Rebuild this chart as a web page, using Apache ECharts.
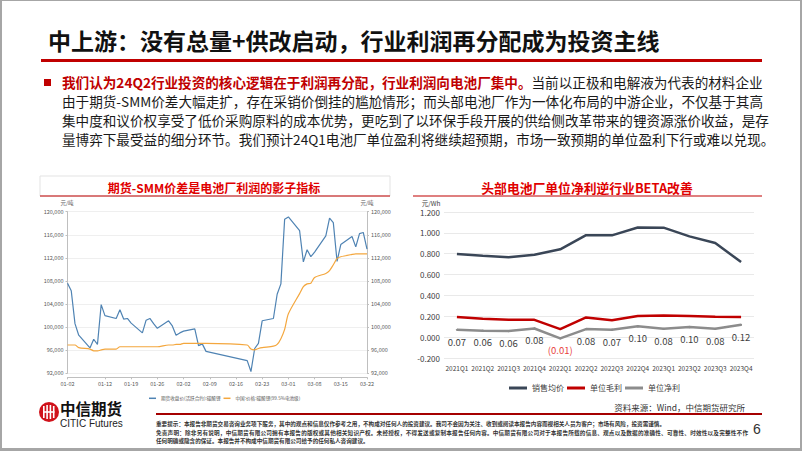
<!DOCTYPE html>
<html><head><meta charset="utf-8">
<script src="https://cdn.jsdelivr.net/npm/echarts/dist/echarts.min.js"></script>
<style>
html,body{margin:0;padding:0;background:#fff;}
#wrap{position:relative;width:802px;height:451px;overflow:hidden;box-sizing:border-box;border:2px solid #a6a6a6;border-bottom-width:3px;border-top-width:1px;font-family:"Noto Sans CJK SC",sans-serif;}
#chart{position:absolute;left:-2px;top:-1px;width:802px;height:451px;}
.t{position:absolute;white-space:nowrap;}
.j{text-align:justify;text-align-last:justify;white-space:nowrap;overflow:visible;}
</style></head>
<body>
<div id="wrap">
  <div id="chart"></div>
  <div class="t" style="left:46px;top:24px;font-size:23px;font-weight:bold;color:#111;line-height:30px;">中上游：没有总量+供改启动，行业利润再分配成为投资主线</div>
  <div class="t" style="left:39px;top:58px;width:721px;height:3px;background:#c00000;"></div>
  <div class="t" style="left:42px;top:78px;width:7px;height:7px;background:#c00000;"></div>
  <div class="t j" style="left:60px;top:72px;width:692px;font-size:13.6px;line-height:19px;color:#1a1a1a;"><span style="color:#c00000;font-weight:bold;">我们认为24Q2行业投资的核心逻辑在于利润再分配，行业利润向电池厂集中。</span>当前以正极和电解液为代表的材料企业</div>
  <div class="t j" style="left:60px;top:91px;width:692px;font-size:13.6px;line-height:19px;color:#1a1a1a;">由于期货-SMM价差大幅走扩，存在采销价倒挂的尴尬情形；而头部电池厂作为一体化布局的中游企业，不仅基于其高</div>
  <div class="t j" style="left:60px;top:110px;width:692px;font-size:13.6px;line-height:19px;color:#1a1a1a;">集中度和议价权享受了低价采购原料的成本优势，更吃到了以环保手段开展的供给侧改革带来的锂资源涨价收益，是存</div>
  <div class="t j" style="left:60px;top:128.5px;width:692px;font-size:13.6px;line-height:19px;color:#1a1a1a;">量博弈下最受益的细分环节。我们预计24Q1电池厂单位盈利将继续超预期，市场一致预期的单位盈利下行或难以兑现。</div>

  <svg class="t" style="left:36px;top:400px;" width="22" height="22" viewBox="0 0 22 22">
    <circle cx="11" cy="11" r="10" fill="#d0121b"/>
    <rect x="5" y="5" width="1.6" height="12" fill="#fff"/>
    <rect x="8.3" y="4" width="1.6" height="14" fill="#fff"/>
    <rect x="11.6" y="4" width="1.6" height="14" fill="#fff"/>
    <rect x="14.9" y="5" width="1.6" height="12" fill="#fff"/>
    <rect x="5" y="10.2" width="11.5" height="1.6" fill="#fff"/>
  </svg>
  <div class="t" style="left:58px;top:399px;font-size:15.5px;font-weight:bold;color:#111;line-height:16px;">中信期货</div>
  <div class="t" style="left:58px;top:418px;font-size:10px;color:#222;line-height:10px;font-family:'Liberation Sans',Arial,sans-serif;">CITIC Futures</div>
  <div class="t" style="right:55px;top:400px;font-size:8.5px;color:#333;line-height:12px;">资料来源：Wind，中信期货研究所</div>
  <div class="t" style="left:154px;top:412px;width:606px;height:2px;background:#a50000;"></div>
  <div class="t" style="left:154px;top:419px;font-size:5.6px;color:#333;line-height:8px;font-weight:bold;">重要提示：本报告非期货交易咨询业务项下服务，其中的观点和信息仅作参考之用，不构成对任何人的投资建议。我司不会因为关注、收到或阅读本报告内容而视相关人员为客户；市场有风险，投资需谨慎。</div>
  <div class="t j" style="left:154px;top:428px;width:592px;font-size:5.6px;color:#333;line-height:8px;font-weight:bold;">免责声明：除非另有说明，中信期货有限公司拥有本报告的版权或其他相关知识产权。未经授权，不得发送或复制本报告任何内容。中信期货有限公司对于本报告所载的信息、观点以及数据的准确性、可靠性、时效性以及完整性不作</div>
  <div class="t" style="left:154px;top:436px;font-size:5.6px;color:#333;line-height:8px;font-weight:bold;">任何明确或隐含的保证。本报告并不构成中信期货有限公司给予的任何私人咨询建议。</div>
  <div class="t" style="left:751px;top:419px;font-size:14px;color:#333;line-height:18px;font-family:'Liberation Sans',Arial,sans-serif;">6</div>
</div>
<script>
// ---- Left chart data (2024, trading days) ----
const tradeDates = ['01-02','01-03','01-04','01-05','01-08','01-09','01-10','01-11','01-12','01-15','01-16','01-17','01-18','01-19','01-22','01-23','01-24','01-25','01-26','01-29','01-30','01-31','02-01','02-02','02-05','02-06','02-07','02-08','02-19','02-20','02-21','02-22','02-23','02-26','02-27','02-28','02-29','03-01','03-04','03-05','03-06','03-07','03-08','03-11','03-12','03-13','03-14','03-15','03-18','03-19','03-20','03-21','03-22'];
const futuresPrice = [107600,106300,100600,98600,96400,97900,97000,103900,102000,101500,103000,101400,101500,100700,99000,101200,101500,100600,99800,101100,100200,98600,99000,99300,99700,96800,97100,95800,94200,92300,96300,97200,101100,101500,105700,107500,118700,119100,116700,111300,113400,112200,113000,115800,118900,118100,111400,114300,115700,113900,116200,116400,113500];
const spotPrice = [96900,96900,96900,96450,96200,95900,95900,96050,96200,96200,96600,96600,96600,96600,96600,96600,96600,96600,96600,96900,96900,97000,97000,97200,97200,97200,97200,97200,96900,96200,96050,96300,96450,96700,97000,98000,99600,102300,105800,107000,107500,107600,108600,109300,109800,110800,111900,112200,112600,112700,112700,112700,112700];
const leftTickLabels = ['01-02','01-12','01-19','01-26','02-02','02-09','02-16','02-23','03-01','03-08','03-15','03-22'];
const leftSeriesNames = ['期货收盘价(活跃合约):碳酸锂','中国:价格:碳酸锂(99.5%电池级)'];

// ---- Right chart data ----
const quarters = ['2021Q1','2021Q2','2021Q3','2021Q4','2022Q1','2022Q2','2022Q3','2022Q4','2023Q1','2023Q2','2023Q3','2023Q4'];
const avgPrice = [0.797,0.781,0.766,0.790,0.842,0.978,0.976,1.052,1.050,0.966,0.903,0.720];
const grossProfit = [0.192,0.176,0.166,0.166,0.077,0.189,0.163,0.202,0.207,0.202,0.195,0.192];
const netProfit = [0.070,0.062,0.058,0.083,-0.012,0.077,0.071,0.104,0.080,0.097,0.080,0.118];
const rightSeriesNames = ['销售均价','单位毛利','单位净利'];

// calendar day categories
const calDays = [];
(function(){
  const d = new Date(Date.UTC(2024,0,2)); const end = Date.UTC(2024,2,22);
  while (d.getTime() <= end) {
    const mm = String(d.getUTCMonth()+1).padStart(2,'0'), dd = String(d.getUTCDate()).padStart(2,'0');
    calDays.push(mm + '-' + dd); d.setUTCDate(d.getUTCDate()+1);
  }
})();
function onCalendar(vals){
  const m = {}; tradeDates.forEach((t,i)=>{ m[t]=vals[i]; });
  return calDays.map(c => (c in m) ? m[c] : null);
}
const showTick = (idx, val) => leftTickLabels.indexOf(val) >= 0;
const thousands = v => v.toLocaleString('en-US');
const font = '"Noto Sans CJK SC", sans-serif';

const chart = echarts.init(document.getElementById('chart'), null, {renderer:'svg', width:802, height:451});
chart.setOption({
  animation:false,
  textStyle:{fontFamily:font},
  grid:[
    {left:67.5, right:435, top:211.7, bottom:77.7},
    {left:444, right:48, top:212, bottom:93}
  ],
  xAxis:[
    {gridIndex:0, type:'category', data:calDays, boundaryGap:false, offset:4,
     axisLine:{lineStyle:{color:'#bfbfbf', width:1}},
     axisTick:{interval:showTick, length:2, lineStyle:{color:'#bfbfbf'}},
     axisLabel:{interval:showTick, fontSize:5.5, color:'#595959', margin:4}},
    {gridIndex:1, type:'category', data:quarters, boundaryGap:true,
     axisLine:{show:false}, axisTick:{show:false},
     axisLabel:{interval:0, fontSize:6.5, color:'#404040', margin:7}}
  ],
  yAxis:[
    {gridIndex:0, type:'value', position:'left', min:92000, max:120000, interval:4000,
     axisLine:{show:true, lineStyle:{color:'#bfbfbf'}}, axisTick:{show:true, length:2, lineStyle:{color:'#bfbfbf'}},
     axisLabel:{fontSize:5.5, color:'#595959', margin:4, formatter:thousands},
     splitLine:{lineStyle:{color:'#efefef'}}},
    {gridIndex:0, type:'value', position:'right', min:92000, max:120000, interval:4000,
     axisLine:{show:true, lineStyle:{color:'#bfbfbf'}}, axisTick:{show:true, length:2, lineStyle:{color:'#bfbfbf'}},
     axisLabel:{fontSize:5.5, color:'#595959', margin:4, formatter:thousands},
     splitLine:{show:false}},
    {gridIndex:1, type:'value', min:-0.2, max:1.2, interval:0.2,
     axisLine:{show:false}, axisTick:{show:false},
     axisLabel:{fontSize:8, color:'#404040', margin:4, formatter:v => (Math.abs(v)<1e-9 ? 0 : v).toFixed(3)},
     splitLine:{lineStyle:{color:'#e9e9e9'}}}
  ],
  legend:[
    {data:leftSeriesNames, left:144, top:391, itemWidth:7, itemHeight:1.5, itemGap:3, icon:'rect',
     textStyle:{fontSize:4.6, color:'#595959'}},
    {data:rightSeriesNames, left:504, top:379, itemWidth:18, itemHeight:3, itemGap:3, icon:'rect',
     textStyle:{fontSize:8, color:'#404040'}}
  ],
  series:[
    {name:leftSeriesNames[0], type:'line', xAxisIndex:0, yAxisIndex:0, data:onCalendar(futuresPrice),
     connectNulls:true, showSymbol:false, lineStyle:{width:1.2, color:'#4f83b3'}, itemStyle:{color:'#4f83b3'}},
    {name:leftSeriesNames[1], type:'line', xAxisIndex:0, yAxisIndex:0, data:onCalendar(spotPrice),
     connectNulls:true, showSymbol:false, smooth:0.25, lineStyle:{width:1.2, color:'#f4a73e'}, itemStyle:{color:'#f4a73e'}},
    {name:rightSeriesNames[0], type:'line', xAxisIndex:1, yAxisIndex:2, data:avgPrice,
     showSymbol:false, lineStyle:{width:2.5, color:'#3a4657'}, itemStyle:{color:'#3a4657'}},
    {name:rightSeriesNames[1], type:'line', xAxisIndex:1, yAxisIndex:2, data:grossProfit,
     showSymbol:false, lineStyle:{width:2.5, color:'#c00000'}, itemStyle:{color:'#c00000'}},
    {name:rightSeriesNames[2], type:'line', xAxisIndex:1, yAxisIndex:2,
     data:netProfit.map(v => v < 0 ? {value:v, label:{color:'#e8403a'}} : v),
     showSymbol:true, symbol:'circle', symbolSize:2, showAllSymbol:true,
     lineStyle:{width:2.5, color:'#8c8c8c'}, itemStyle:{color:'#8c8c8c'},
     label:{show:true, position:'bottom', distance:6, fontSize:9.5, color:'#404040',
       formatter:p => p.value < 0 ? '(' + Math.abs(p.value).toFixed(2) + ')' : p.value.toFixed(2)}}
  ],
  graphic:[
    {type:'rect', shape:{x:40, y:176, width:350, height:20}, style:{fill:'none', stroke:'#e3e3e3', lineWidth:1}},
    {type:'line', shape:{x1:40, y1:196, x2:390, y2:196}, style:{stroke:'#c00000', lineWidth:1}},
    {type:'text', x:214, y:187, style:{text:'期货-SMM价差是电池厂利润的影子指标', fill:'#e00000', font:'bold 12px "Noto Sans CJK SC"', textAlign:'center', textVerticalAlign:'middle'}},
    {type:'line', shape:{x1:413, y1:196, x2:762, y2:196}, style:{stroke:'#c00000', lineWidth:1.2}},
    {type:'text', x:587, y:187, style:{text:'头部电池厂单位净利逆行业BETA改善', fill:'#e00000', font:'bold 12.8px "Noto Sans CJK SC"', textAlign:'center', textVerticalAlign:'middle'}},
    {type:'text', x:67, y:203, style:{text:'元/吨', fill:'#595959', font:'5.5px "Noto Sans CJK SC"', textAlign:'center', textVerticalAlign:'middle'}},
    {type:'text', x:367, y:203, style:{text:'元/吨', fill:'#595959', font:'5.5px "Noto Sans CJK SC"', textAlign:'center', textVerticalAlign:'middle'}},
    {type:'text', x:431, y:203, style:{text:'元/Wh', fill:'#404040', font:'6.5px "Noto Sans CJK SC"', textAlign:'center', textVerticalAlign:'middle'}}
  ]
});
</script>
</body></html>
